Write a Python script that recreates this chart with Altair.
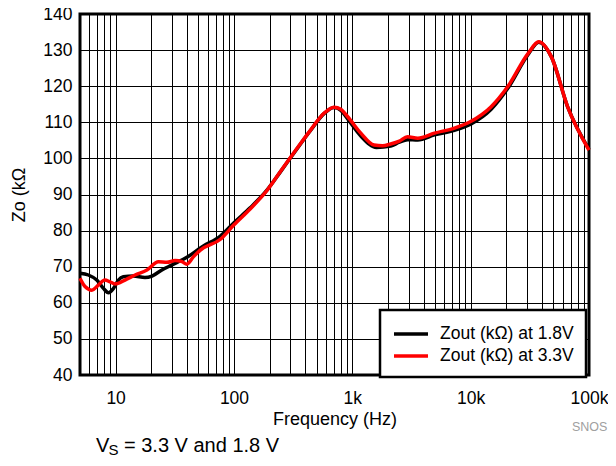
import altair as alt
import pandas as pd

# ---------------- data ----------------
series_names = ["Zout (kΩ) at 1.8V", "Zout (kΩ) at 3.3V"]
series_colors = ["#000000", "#ff0000"]

f_18 = [5, 5.88, 6.93, 7.88, 8.7, 9.6, 10.56, 11.6, 14.1, 17.7, 20.3, 24.6, 30, 41,
        53.6, 76.8, 100, 137, 190, 246, 333, 445, 576, 700, 800, 910, 1180, 1600, 2110,
        2500, 2925, 3576, 4946, 7295, 10000, 14900, 20600, 30600, 37600, 48000,
        66000, 100000]
z_18 = [68.2, 67.7, 66.3, 64.0, 62.8, 64.0, 66.3, 67.2, 67.4, 67.0, 67.4, 69.1, 70.5,
        72.8, 75.5, 78.5, 82.2, 86.3, 91.2, 96.2, 102.2, 107.8, 112.4, 114.1, 113.3,
        111.0, 106.2, 103.0, 103.4, 104.5, 105.2, 105.1, 106.5, 107.8, 109.5, 113.6,
        119.4, 128.8, 132.2, 128.2, 114.3, 102.5]

f_33 = [5, 5.51, 6.3, 7.15, 8.1, 8.98, 9.9, 12.0, 14.6, 18.4, 23, 27.1, 31.8, 36.3,
        40, 45.6, 52, 76.8, 100, 137, 190, 246, 333, 445, 576, 700, 800, 910, 1180, 1527,
        1800, 2110, 2500, 2925, 3576, 4946, 7295, 10000, 14900, 20600, 30600, 37600,
        48000, 66000, 100000]
z_33 = [66.8, 64.5, 63.5, 64.9, 66.3, 65.8, 65.2, 66.3, 67.7, 69.1, 71.4, 71.2, 71.7,
        71.4, 70.7, 72.8, 74.6, 77.6, 81.6, 86.0, 91.1, 96.3, 102.3, 107.9, 112.5, 114.2,
        113.6, 111.6, 107.0, 103.7, 103.5, 104.0, 104.8, 106.0, 105.6, 107.0, 108.4,
        110.2, 114.3, 119.9, 129.1, 132.3, 128.2, 114.3, 102.3]

x_grid = ([m * 1 for m in range(6, 10)] + [m * 10 for m in range(1, 10)] +
          [m * 100 for m in range(1, 10)] + [m * 1000 for m in range(1, 10)] +
          [m * 10000 for m in range(1, 11)])
x_label_values = [10, 100, 1000, 10000, 100000]
x_label_texts = ["10", "100", "1k", "10k", "100k"]
y_ticks = list(range(40, 141, 10))

x_title = "Frequency (Hz)"
y_title = "Zo (kΩ"
caption_main = "V"
caption_sub = "S"
caption_rest = "= 3.3 V and 1.8 V"
doc_code = "SNOS"

FONT = "Liberation Sans, Arial, Helvetica, sans-serif"

df = pd.concat([
    pd.DataFrame({"f": f_18, "z": z_18, "series": series_names[0]}),
    pd.DataFrame({"f": f_33, "z": z_33, "series": series_names[1]}),
])

label_expr = " : ".join(
    f"datum.value == {v} ? '{t}'" for v, t in zip(x_label_values, x_label_texts)
) + " : ''"

lines = alt.Chart(df).mark_line(strokeWidth=3.5, interpolate="monotone").encode(
    x=alt.X("f:Q",
            scale=alt.Scale(type="log", domain=[5, 100000], nice=False),
            axis=alt.Axis(values=x_grid, labelExpr=label_expr, grid=True, ticks=False,
                          domain=False, labelOverlap=False, labelFlush=False,
                          labelBound=False, labelPadding=14, labelFontSize=17.5,
                          title=x_title, titleFontSize=18, titleFontWeight="normal",
                          titlePadding=4)),
    y=alt.Y("z:Q",
            scale=alt.Scale(domain=[40, 140], nice=False, zero=False),
            axis=alt.Axis(values=y_ticks, grid=True, ticks=False, domain=False,
                          labelFlush=False, labelPadding=8, labelFontSize=17.5,
                          title=y_title, titleFontSize=18, titleFontWeight="normal",
                          titlePadding=14)),
    color=alt.Color("series:N",
                    scale=alt.Scale(domain=series_names, range=series_colors),
                    legend=alt.Legend(title=None, orient="none", legendX=300, legendY=296,
                                      symbolType="M-1,0L2.4,0", symbolSize=400,
                                      symbolStrokeWidth=3.5, labelFontSize=17.5,
                                      labelOffset=24, padding=12, rowPadding=1,
                                      fillColor="white", strokeColor="black",
                                      labelFont=FONT)),
)

one = pd.DataFrame({"k": [0]})

t_v = alt.Chart(one).mark_text(text=caption_main, align="left", baseline="alphabetic",
                               fontSize=20, font=FONT, color="black").encode(
    x=alt.value(16), y=alt.value(437.5))
t_s = alt.Chart(one).mark_text(text=caption_sub, align="left", baseline="alphabetic",
                               fontSize=15, font=FONT, color="black").encode(
    x=alt.value(28.5), y=alt.value(440.5))
t_rest = alt.Chart(one).mark_text(text=caption_rest, align="left", baseline="alphabetic",
                                  fontSize=20, font=FONT, color="black").encode(
    x=alt.value(44), y=alt.value(437.5))
t_doc = alt.Chart(one).mark_text(text=doc_code, align="left", baseline="alphabetic",
                                 fontSize=12.5, font=FONT, color="#a0a0a0").encode(
    x=alt.value(492), y=alt.value(416.7))

chart = alt.layer(lines, t_v, t_s, t_rest, t_doc).properties(
    width=509, height=361,
    padding={"left": 72, "top": 6, "right": 19, "bottom": 83},
    autosize=alt.AutoSizeParams(type="none"),
    background="white",
).configure_view(
    stroke="black", strokeWidth=3
).configure_axis(
    gridColor="black", gridWidth=1, gridOpacity=1,
    labelFont=FONT, titleFont=FONT, labelColor="black", titleColor="black",
).configure_legend(
    strokeWidth=2.5
)

chart.save("out.html", embed_options={"renderer": "svg", "actions": False})
